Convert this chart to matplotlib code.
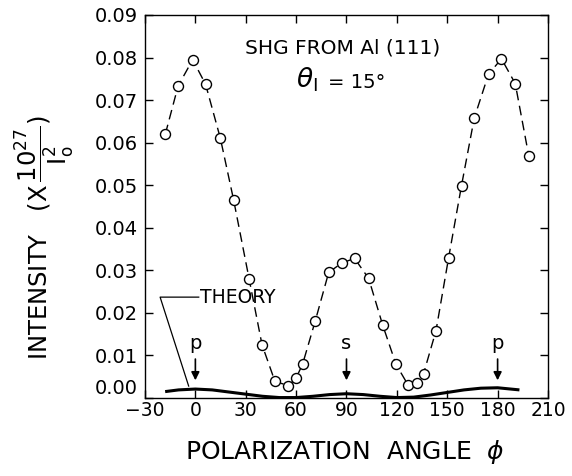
import matplotlib
matplotlib.use('Agg')
import matplotlib.pyplot as plt
from matplotlib.transforms import ScaledTranslation

# measured SHG intensity vs polarization angle
phi = [-17.9, -10.3, -1.6, 6.1, 14.9, 22.8, 32.0, 39.7, 47.4, 55.4, 59.9, 63.9,
       71.4, 79.4, 87.1, 94.8, 103.2, 111.5, 119.5, 126.6, 131.7, 135.9, 143.3,
       150.8, 158.5, 166.1, 174.6, 182.3, 190.5, 198.6]
intensity = [0.0620, 0.0733, 0.0795, 0.0737, 0.0610, 0.0465, 0.0280, 0.0125,
             0.0039, 0.0029, 0.0046, 0.0080, 0.0181, 0.0295, 0.0317, 0.0328,
             0.0281, 0.0172, 0.0079, 0.0031, 0.0035, 0.0057, 0.0158, 0.0329,
             0.0499, 0.0658, 0.0761, 0.0797, 0.0739, 0.0568]

# theory curve
phi_th = [-18, -10, 0, 10, 20, 30, 40, 50, 60, 70, 80, 90, 100, 110, 120, 130,
          140, 150, 160, 170, 180, 193]
int_th = [0.0015, 0.0019, 0.0021, 0.0019, 0.0014, 0.0009, 0.0004, 0.0001,
          0.0001, 0.0004, 0.0008, 0.0010, 0.0008, 0.0004, 0.0001, 0.0002,
          0.0007, 0.0013, 0.0019, 0.0023, 0.0024, 0.0019]

xticks = [-30, 0, 30, 60, 90, 120, 150, 180, 210]
yticks = [0.00, 0.01, 0.02, 0.03, 0.04, 0.05, 0.06, 0.07, 0.08, 0.09]
marks = [(0, 'p'), (90, 's'), (180, 'p')]

fig = plt.figure(figsize=(5.72, 4.76), dpi=100)
ax = fig.add_axes([0.2535, 0.1639, 0.7045, 0.8046])

ax.plot(phi, intensity, color='black', lw=1, dashes=(7, 4),
        marker='o', markersize=7.2, markerfacecolor='white',
        markeredgecolor='black', markeredgewidth=1)
ax.plot(phi_th, int_th, color='black', lw=2.2, solid_capstyle='butt')

ax.set_xlim(-30, 210)
ax.set_ylim(0, 0.09)
ax.set_xticks(xticks)
ax.set_yticks(yticks)
ax.set_xticklabels([str(t).replace('-', '\u2212') for t in xticks])
ax.set_yticklabels(['%.2f' % t for t in yticks])
ax.tick_params(direction='in', length=6, width=1, top=True, right=True,
               labeltop=False, labelright=False)
ax.tick_params(axis='x', labelsize=13.5, pad=2)
ax.tick_params(axis='y', labelsize=14, pad=5)
for s in ax.spines.values():
    s.set_linewidth(1)

# lift the 0.00 label off the corner like the original
lab0 = ax.get_yticklabels()[0]
lab0.set_transform(lab0.get_transform() + ScaledTranslation(0, 8 / 72, fig.dpi_scale_trans))

ax.text(0.49, 0.914, 'SHG FROM Al (111)', transform=ax.transAxes,
        ha='center', va='center', fontsize=14.5)
ax.text(0.375, 0.83, r'$\theta_{\rm I}$', transform=ax.transAxes,
        ha='left', va='center', fontsize=19)
ax.text(0.455, 0.825, '= 15\u00b0', transform=ax.transAxes,
        ha='left', va='center', fontsize=14)

# THEORY label with leader line
ax.text(3, 0.0237, 'THEORY', ha='left', va='center', fontsize=13.5)
ax.plot([2, -21, -4], [0.0237, 0.0237, 0.0028], color='black', lw=0.9)

for x, lab in marks:
    ax.text(x, 0.0128, lab, ha='center', va='center', fontsize=14)
    ax.annotate('', xy=(x, 0.0035), xytext=(x, 0.0098),
                arrowprops=dict(arrowstyle='-|>', color='black', lw=1.2,
                                mutation_scale=12))

fig.text(0.603, 0.02, 'POLARIZATION  ANGLE  $\\phi$', ha='center', va='bottom',
         fontsize=18)
fig.text(0.078, 0.5,
         r'INTENSITY   (X$\,\dfrac{10^{27}}{\mathrm{I}_{\mathrm{o}}^{2}}$)',
         rotation=90, ha='center', va='center', fontsize=17.5)

fig.savefig('out.png', dpi=100)
